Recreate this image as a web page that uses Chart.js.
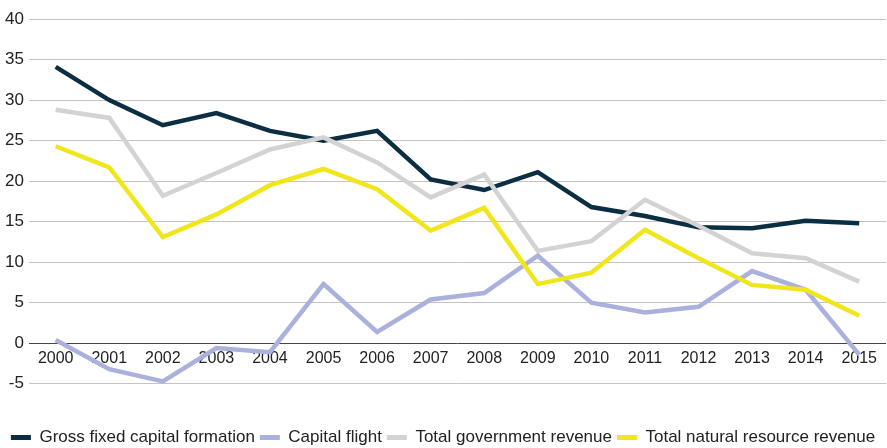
<!DOCTYPE html>
<html>
<head>
<meta charset="utf-8">
<script src="https://cdn.jsdelivr.net/npm/chart.js@4"></script>
<style>
  html, body { margin: 0; padding: 0; background: #fff; }
  #wrap { width: 887px; height: 448px; position: relative; }
</style>
</head>
<body>
<div id="wrap"><canvas id="revenueChart"></canvas></div>
<script>
const years = ['2000','2001','2002','2003','2004','2005','2006','2007','2008','2009','2010','2011','2012','2013','2014','2015'];

const grossFixedCapital = [34.1, 30.0, 26.9, 28.4, 26.2, 25.0, 26.2, 20.2, 18.9, 21.1, 16.8, 15.7, 14.3, 14.2, 15.1, 14.8];
const capitalFlight     = [0.4, -3.2, -4.7, -0.6, -1.1, 7.3, 1.4, 5.4, 6.2, 10.8, 5.0, 3.8, 4.5, 8.9, 6.6, -1.4];
const govRevenue        = [28.8, 27.8, 18.2, 21.0, 23.9, 25.4, 22.3, 18.0, 20.8, 11.4, 12.6, 17.7, 14.5, 11.1, 10.5, 7.6];
const resourceRevenue   = [24.3, 21.7, 13.1, 15.9, 19.5, 21.5, 19.0, 13.9, 16.7, 7.3, 8.7, 14.0, 10.5, 7.2, 6.6, 3.4];

const yTicks = [-5, 0, 5, 10, 15, 20, 25, 30, 35, 40];

const FONT = '"Liberation Sans", Arial, sans-serif';

function series(label, data, color, order){
  return { label, data, borderColor: color, backgroundColor: color, borderWidth: 4.5,
           pointRadius: 0, tension: 0, fill: false, order };
}

const ctx = document.getElementById('revenueChart').getContext('2d');
new Chart(ctx, {
  type: 'line',
  data: {
    labels: years,
    datasets: [
      series('Gross fixed capital formation', grossFixedCapital, '#0b2e43', 3),
      series('Capital flight', capitalFlight, '#a9b1dc', 2),
      series('Total government revenue', govRevenue, '#d3d3d3', 1),
      series('Total natural resource revenue', resourceRevenue, '#f1e51c', 0)
    ]
  },
  options: {
    responsive: true,
    maintainAspectRatio: false,
    animation: false,
    layout: { padding: { top: 19, right: 1, bottom: -8, left: 0 } },
    plugins: {
      tooltip: { enabled: false },
      legend: {
        position: 'bottom',
        // tiny blank title just to open a gap above the legend row
        title: { display: true, text: '', font: { size: 1 }, padding: { top: 39, bottom: 0 } },
        labels: {
          font: { family: FONT, size: 17 },
          color: '#222',
          boxWidth: 20,
          boxHeight: 5,
          padding: 5,
          sort: (a, b) => a.datasetIndex - b.datasetIndex,
          generateLabels(chart){
            return chart.data.datasets.map((ds, i) => ({
              text: ds.label, fillStyle: ds.borderColor, strokeStyle: ds.borderColor,
              lineWidth: 0, hidden: false, datasetIndex: i, fontColor: '#222'
            }));
          }
        }
      }
    },
    scales: {
      x: {
        position: { y: 0 },
        offset: true,
        grid: { display: false, drawTicks: false },
        border: { display: false },
        ticks: { font: { family: FONT, size: 16 }, color: '#222', padding: 6, maxRotation: 0 }
      },
      y: {
        min: -5,
        max: 40,
        afterBuildTicks(axis){ axis.ticks = yTicks.map(v => ({ value: v })); },
        border: { display: false },
        grid: {
          drawTicks: false,
          color: c => c.tick && c.tick.value === 0 ? '#444' : '#c4c4c4',
          lineWidth: 1
        },
        ticks: { font: { family: FONT, size: 17 }, color: '#222', padding: 5 }
      }
    }
  }
});
</script>
</body>
</html>
